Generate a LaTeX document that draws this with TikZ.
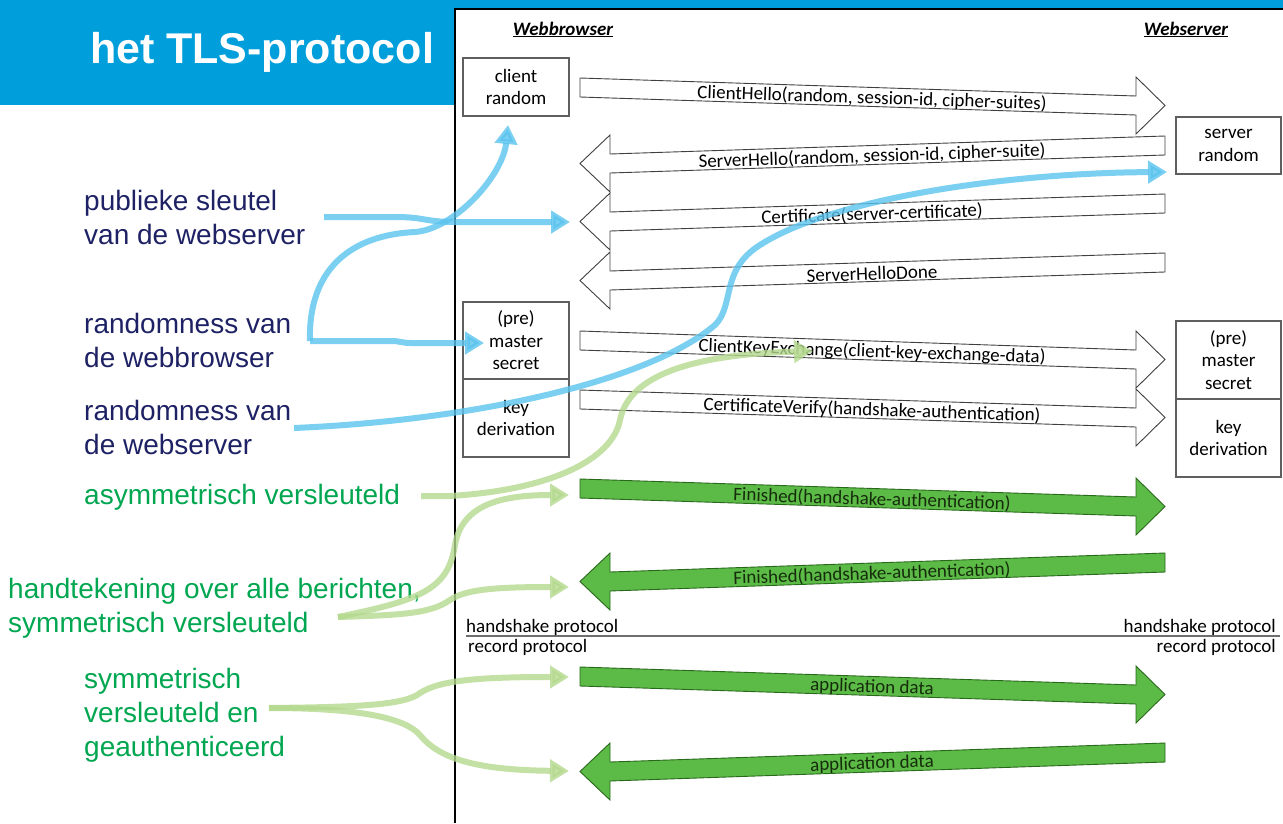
\documentclass[tikz,border=0pt]{standalone}
\usepackage{fontspec}
\setmainfont{Carlito}
\newfontfamily\arialfont{Liberation Sans}
\usetikzlibrary{arrows.meta}

\definecolor{headerblue}{RGB}{0,159,219}
\definecolor{labelnavy}{RGB}{30,34,100}
\definecolor{labelgreen}{RGB}{0,166,80}
\definecolor{calloutblue}{RGB}{90,195,238}
\definecolor{calloutgreen}{RGB}{180,217,142}
\definecolor{msgfill}{RGB}{92,186,70}
\definecolor{msgedge}{RGB}{40,105,28}
\definecolor{boxedge}{RGB}{95,95,95}
\definecolor{msgtextgreen}{RGB}{22,45,12}
\definecolor{sepgray}{RGB}{110,110,110}

% message arrow pointing right: name, left top y, right top y, style, label
\newcommand\msgright[5]{%
  \draw[#4] (580,#2) -- (1136,#3) -- (1136,#3-19) -- (1165,#3+9.5)
    -- (1136,#3+38) -- (1136,#3+19) -- (580,#2+19) -- cycle;
  \node[msgtext, rotate=-1.9] (#1) at (872,{(#2+#3)/2+11.5}) {#5};}
% message arrow pointing left: name, right top y, left top y, style, label
\newcommand\msgleft[5]{%
  \draw[#4] (1165,#2) -- (610,#3) -- (610,#3-19) -- (580,#3+9.5)
    -- (610,#3+38) -- (610,#3+19) -- (1165,#2+19) -- cycle;
  \node[msgtext, rotate=1.9] (#1) at (872,{(#2+#3)/2+11.5}) {#5};}

\begin{document}
\begin{tikzpicture}[x=1pt, y=-1pt,
  outline/.style={draw=black!75, line width=0.9, fill=white},
  greenmsg/.style={draw=msgedge, line width=0.9, fill=msgfill},
  msgtext/.style={inner sep=0, font=\fontsize{19}{22}\selectfont},
  box/.style={draw=boxedge, line width=1.2, fill=white, inner sep=0, align=center,
    font=\fontsize{19}{22.5}\selectfont},
  party/.style={inner sep=0, anchor=base, font=\bfseries\itshape\fontsize{19}{22}\selectfont},
  lab/.style={inner sep=0, anchor=base west, font=\arialfont\fontsize{28}{34}\selectfont},
  callout/.style={line width=6, opacity=0.8, line cap=butt,
    -{Triangle[width=22pt,length=19pt]}},
  blueline/.style={callout, draw=calloutblue},
  greenline/.style={callout, draw=calloutgreen}]
\useasboundingbox (0,0) rectangle (1283,823);

% header
\fill[headerblue] (0,0) rectangle (1283,8);
\fill[headerblue] (0,0) rectangle (455,105);
\node[inner sep=0, anchor=base, text=white,
  font=\arialfont\bfseries\fontsize{43}{50}\selectfont] (title) at (262,63) {het TLS-protocol};

% diagram frame
\draw[black, line width=1.2] (455,823) -- (455,9) -- (1283,9);

% parties
\node[party] (browser) at (563,35) {\underline{Webbrowser}};
\node[party] (server) at (1186,35) {\underline{Webserver}};

% state boxes
\node[box, minimum width=106, minimum height=58] (crand) at (516,87) {client\\random};
\node[box, minimum width=105, minimum height=57] (srand) at (1228.5,145.5) {server\\random};
\node[box, minimum width=106, minimum height=77] (cpms) at (516,340.5) {(pre)\\master\\secret};
\node[box, minimum width=106, minimum height=78] (ckd) at (516,418) {key\\derivation};
\node[box, minimum width=105, minimum height=78] (spms) at (1228.5,360) {(pre)\\master\\secret};
\node[box, minimum width=105, minimum height=78] (skd) at (1228.5,438) {key\\derivation};

% handshake messages
\msgright{m1}{78}{96}{outline}{ClientHello(random, session-id, cipher-suites)}
\msgleft{m2}{136}{154}{outline}{ServerHello(random, session-id, cipher-suite)}
\msgleft{m3}{194}{212}{outline}{Certificate(server-certificate)}
\msgleft{m4}{253}{271}{outline}{ServerHelloDone}
\msgright{m5}{331}{350}{outline}{ClientKeyExchange(client-key-exchange-data)}
\msgright{m6}{390}{408}{outline}{CertificateVerify(handshake-authentication)}
\msgright{m7}{479}{497}{greenmsg}{\textcolor{msgtextgreen}{Finished(handshake-authentication)}}
\msgleft{m8}{553}{572}{greenmsg}{\textcolor{msgtextgreen}{Finished(handshake-authentication)}}

% protocol layer separator
\draw[sepgray, line width=2] (466,636) -- (1280,636);
\node[msgtext, anchor=base west] (hsl) at (466,632) {handshake protocol};
\node[msgtext, anchor=base west] (rpl) at (468,652) {record protocol};
\node[msgtext, anchor=base east] (hsr) at (1276,632) {handshake protocol};
\node[msgtext, anchor=base east] (rpr) at (1276,652) {record protocol};

% record layer messages
\msgright{m9}{667}{685}{greenmsg}{\textcolor{msgtextgreen}{application data}}
\msgleft{m10}{743}{762}{greenmsg}{\textcolor{msgtextgreen}{application data}}

% explanations
\node[lab, text=labelnavy] (pub) at (84,210)
  {\begin{tabular}[t]{@{}l@{}}publieke sleutel\\van de webserver\end{tabular}};
\node[lab, text=labelnavy] (rndb) at (84,333)
  {\begin{tabular}[t]{@{}l@{}}randomness van\\de webbrowser\end{tabular}};
\node[lab, text=labelnavy] (rnds) at (84,420)
  {\begin{tabular}[t]{@{}l@{}}randomness van\\de webserver\end{tabular}};
\node[lab, text=labelgreen] (asym) at (84,504) {asymmetrisch versleuteld};
\node[lab, text=labelgreen] (sign) at (8,598)
  {\begin{tabular}[t]{@{}l@{}}handtekening over alle berichten,\\symmetrisch versleuteld\end{tabular}};
\node[lab, text=labelgreen] (symm) at (84,688)
  {\begin{tabular}[t]{@{}l@{}}symmetrisch\\versleuteld en\\geauthenticeerd\end{tabular}};

% callout end points
\coordinate (pubS) at (324,217);
\coordinate (pubT) at (570,222);
\coordinate (wbS) at (310,341);
\coordinate (wbT) at (484,343);
\coordinate (crT) at (508,125);
\coordinate (wsS) at (294,428);
\coordinate (srT) at (1167,172);
\coordinate (asS) at (421,496);
\coordinate (ckeT) at (813,351);
\coordinate (hdS) at (338,617);
\coordinate (fin1T) at (569,495);
\coordinate (fin2T) at (569,587);
\coordinate (syS) at (269,708);
\coordinate (app1T) at (569,677);
\coordinate (app2T) at (569,771);

% blue callouts
\draw[blueline] (pubS) -- (395,217) .. controls (425,217) and (425,222) .. (455,222) -- (pubT);
\draw[blueline] (wbS) -- (391,341) .. controls (401,341) and (401,343) .. (411,343) -- (wbT);
\draw[blueline] (wbS) .. controls (308,270) and (350,235) .. (415,232)
  .. controls (455,229) and (503,175) .. (crT);
\draw[blueline] (wsS) .. controls (480,420) and (650,380) .. (715,325)
  .. controls (735,305) and (720,270) .. (760,245)
  .. controls (830,200) and (1000,173) .. (srT);

% green callouts
\draw[greenline] (asS) -- (450,496) .. controls (550,490) and (612,460) .. (620,420)
  .. controls (628,380) and (680,355) .. (ckeT);
\draw[greenline] (hdS) .. controls (420,600) and (448,590) .. (455,545)
  .. controls (462,505) and (500,495) .. (fin1T);
\draw[greenline] (hdS) .. controls (400,615) and (430,614) .. (450,600)
  .. controls (465,590) and (490,587) .. (fin2T);
\draw[greenline] (syS) .. controls (360,707) and (405,705) .. (420,693)
  .. controls (440,680) and (480,677) .. (app1T);
\draw[greenline] (syS) .. controls (360,708) and (405,718) .. (420,735)
  .. controls (440,760) and (480,770) .. (app2T);
\end{tikzpicture}
\end{document}
